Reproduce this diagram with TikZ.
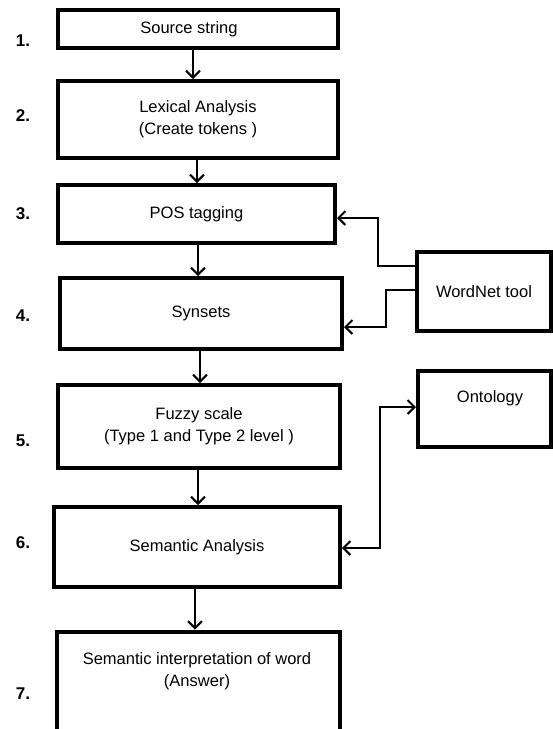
\documentclass[tikz,border=0pt]{standalone}
\usepackage{fontspec}
\setmainfont{Liberation Sans}
\usetikzlibrary{arrows.meta}
\tikzset{
  box/.style={draw=black, line width=4pt, fill=white, rectangle, inner sep=0pt, align=center, font=\fontsize{16.5}{22}\selectfont},
  txt/.style={inner sep=0pt, align=center, font=\fontsize{16.5}{22}\selectfont},
  num/.style={inner sep=0pt, font=\fontsize{17}{20}\selectfont\bfseries},
  tip/.style={},
  arr/.style={line width=2pt, -{Straight Barb[length=7pt,width=14pt,line width=2pt]}},
  arr2/.style={line width=2pt, {Straight Barb[length=7pt,width=14pt,line width=2pt]}-{Straight Barb[length=7pt,width=14pt,line width=2pt]}}
}
\begin{document}
\begin{tikzpicture}[x=1pt,y=-1pt]
\useasboundingbox (0,0) rectangle (553,729);
\clip (0,0) rectangle (553,729);
\fill[white] (0,0) rectangle (553,729);
% main boxes
\node[box, minimum width=280pt, minimum height=38pt] (b1) at (198,29) {};
\node[txt] (t1) at (189,29) {Source string};
\node[box, minimum width=280pt, minimum height=77pt] (b2) at (198,119.5) {Lexical Analysis\\(Create tokens )};
\node[box, minimum width=277pt, minimum height=58pt] (b3) at (196.5,214) {POS tagging};
\node[box, minimum width=282pt, minimum height=71pt] (b4) at (201,313.5) {Synsets};
\node[box, minimum width=282pt, minimum height=83pt] (b5) at (199,426.5) {Fuzzy scale\\(Type 1 and Type 2 level )};
\node[box, minimum width=286pt, minimum height=80pt] (b6) at (197,547) {Semantic Analysis};
\node[box, minimum width=283pt, minimum height=115pt] (b7) at (198.5,689) {};
\node[txt] (t7) at (197,671) {Semantic interpretation of word\\(Answer)};
% side boxes
\node[box, minimum width=134pt, minimum height=79pt] (wn) at (484,291.5) {WordNet tool};
\node[box, minimum width=133pt, minimum height=76pt] (on) at (484.5,409) {};
\node[txt] (ton) at (490,398) {Ontology};
% step numbers
\node[num] (n1) at (23,41) {1.};
\node[num] (n2) at (23,116) {2.};
\node[num] (n3) at (23,214) {3.};
\node[num] (n4) at (23,316) {4.};
\node[num] (n5) at (23,441) {5.};
\node[num] (n6) at (23,543) {6.};
\node[num] (n7) at (23,694) {7.};
% vertical connectors
\draw[arr] (b1.south -| 193,0) -- (b2.north -| 193,0);
\draw[arr] (b2.south -| 197,0) -- (b3.north -| 197,0);
\draw[arr] (b3.south -| 198,0) -- (b4.north -| 198,0);
\draw[arr] (b4.south -| 200,0) -- (b5.north -| 200,0);
\draw[arr] (b5.south -| 198,0) -- (b6.north -| 198,0);
\draw[arr] (b6.south -| 195,0) -- (b7.north -| 195,0);
% WordNet connectors
\draw[arr] (wn.west |- 0,266) -- (378,266) |- (b3.east |- 0,218);
\draw[arr] (wn.west |- 0,290) -- (386,290) |- (b4.east |- 0,327);
% Ontology connector
\draw[arr2] (b6.east |- 0,548) -| (380,407) -- (on.west |- 0,407);
\end{tikzpicture}
\end{document}
